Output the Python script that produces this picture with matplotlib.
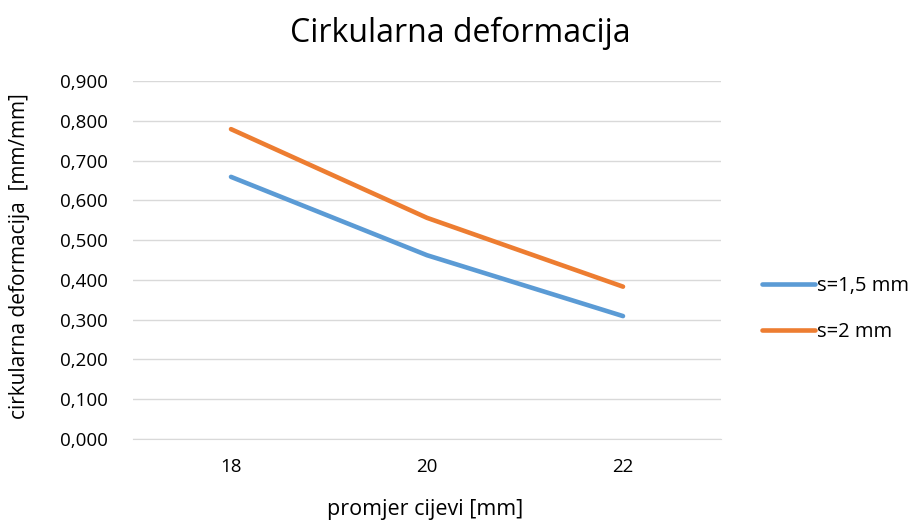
import matplotlib
matplotlib.use("Agg")
import matplotlib.pyplot as plt
from matplotlib.lines import Line2D

categories = ["18", "20", "22"]
s15 = [0.659, 0.462, 0.309]
s2 = [0.779, 0.556, 0.383]
series_labels = ["s=1,5 mm", "s=2 mm"]
yticks = [0.0, 0.1, 0.2, 0.3, 0.4, 0.5, 0.6, 0.7, 0.8, 0.9]

plt.rcParams['font.family'] = ['Open Sans', 'DejaVu Sans']

W, H = 917, 522
fig = plt.figure(figsize=(9.17, 5.22), dpi=100)
ax = fig.add_axes([133 / W, 1 - 439 / H, 588 / W, 358 / H])

x = list(range(len(categories)))
ax.plot(x, s15, color="#5B9BD5", lw=3.3, solid_capstyle="round", label=series_labels[0], zorder=3)
ax.plot(x, s2, color="#ED7D31", lw=3.3, solid_capstyle="round", label=series_labels[1], zorder=3)

ax.set_xlim(-0.5, len(categories) - 0.5)
ax.set_ylim(0, 0.9)
ax.set_xticks(x)
ax.set_xticklabels(categories)
ax.set_yticks(yticks)
ax.set_yticklabels([f"{v:.3f}".replace(".", ",") for v in yticks])
ax.grid(axis="y", color="#d9d9d9", lw=1)
ax.set_axisbelow(True)
for s in ["top", "right", "left"]:
    ax.spines[s].set_visible(False)
ax.spines["bottom"].set_color("#d9d9d9")
ax.tick_params(axis="both", length=0, labelsize=13.5, colors="#000000")
ax.tick_params(axis="y", pad=18)
ax.tick_params(axis="x", pad=14)

fig.text(460 / W, 1 - 33 / H, "Cirkularna deformacija", fontsize=23, ha="center", va="center")
fig.text(425 / W, 1 - 509 / H, "promjer cijevi [mm]", fontsize=15.5, ha="center", va="center")
fig.text(20 / W, 1 - 256 / H, "cirkularna deformacija  [mm/mm]", fontsize=15, ha="center",
         va="center", rotation=90)

handles = [Line2D([0], [0], color="#5B9BD5", lw=3.3, solid_capstyle="round"),
           Line2D([0], [0], color="#ED7D31", lw=3.3, solid_capstyle="round")]
fig.legend(handles, series_labels, loc="center left", bbox_to_anchor=(762 / W, 1 - 309 / H),
           frameon=False, fontsize=14.5, handlelength=2.65, handletextpad=0.1, labelspacing=1.3,
           borderaxespad=0, borderpad=0)

fig.savefig("out.png", dpi=100)
